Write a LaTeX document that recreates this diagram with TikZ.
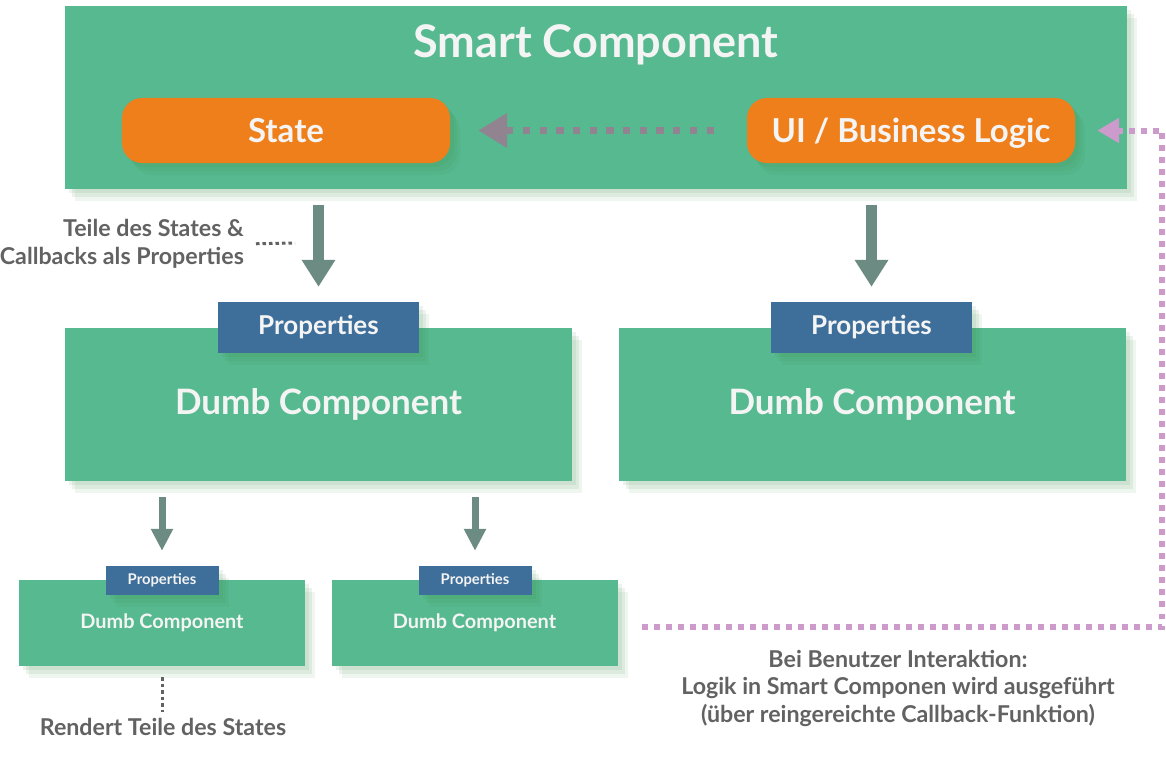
\documentclass[tikz,border=0pt]{standalone}
\usepackage{fontspec}
\setmainfont{Lato}
\usetikzlibrary{arrows.meta,shadows}
\definecolor{smartgreen}{HTML}{56B98F}
\definecolor{orangebox}{HTML}{EF7F1B}
\definecolor{propblue}{HTML}{3E6E9A}
\definecolor{arrowgreen}{HTML}{6C8B82}
\definecolor{greyarrow}{HTML}{928390}
\definecolor{pinkline}{HTML}{CC9BCB}
\definecolor{txtgrey}{HTML}{626262}
\definecolor{whitetxt}{HTML}{F4F4F4}
\definecolor{shadowc}{HTML}{3C8F4A}
\begin{document}
\begin{tikzpicture}[x=1bp,y=-1bp,
  soft/.style={
    general shadow={shadow xshift=4bp,shadow yshift=-4bp,fill=shadowc,opacity=0.10},
    general shadow={shadow xshift=7bp,shadow yshift=-8bp,fill=shadowc,opacity=0.10},
    general shadow={shadow xshift=10bp,shadow yshift=-12bp,fill=shadowc,opacity=0.08}},
  greenbox/.style={soft,fill=smartgreen,draw=none,inner sep=0pt,text=whitetxt,font=\bfseries},
  orangepill/.style={soft,fill=orangebox,rounded corners=20bp,inner sep=0pt,minimum width=328bp,minimum height=65bp,text height=26bp,text depth=3bp,text=whitetxt,font=\fontsize{33bp}{38bp}\selectfont\bfseries},
  propbox/.style={soft,fill=propblue,inner sep=0pt,text=whitetxt},
  bigprop/.style={propbox,minimum width=201bp,minimum height=51bp,font=\fontsize{26bp}{30bp}\selectfont\bfseries},
  smallprop/.style={propbox,minimum width=113bp,minimum height=29bp,font=\fontsize{14.8bp}{17bp}\selectfont\bfseries},
  bigdumb/.style={greenbox,minimum width=507bp,minimum height=153bp,font=\fontsize{35bp}{42bp}\selectfont\bfseries},
  smalldumb/.style={greenbox,minimum width=286bp,minimum height=86bp,font=\fontsize{19.9bp}{24bp}\selectfont\bfseries},
  bigarrow/.style={draw=arrowgreen,line width=11bp,-{Triangle[width=32bp,length=27bp]},shorten <=16bp,shorten >=15bp},
  smallarrow/.style={draw=arrowgreen,line width=7bp,-{Triangle[width=21bp,length=22bp]},shorten <=16bp,shorten >=15bp},
  greyarrowline/.style={draw=greyarrow,line width=7.5bp,dash pattern=on 7.3bp off 9.4bp,-{Triangle[width=33bp,length=29bp]}},
  pinkarrowline/.style={draw=pinkline,line width=6bp,dash pattern=on 5.5bp off 6.5bp,-{Triangle[width=24bp,length=22bp]}},
  greydots/.style={draw=txtgrey,line width=3bp,dash pattern=on 3.5bp off 3bp},
  greytext/.style={text=txtgrey,font=\fontsize{23.2bp}{27.5bp}\selectfont\bfseries,inner sep=0pt}
]
\useasboundingbox[fill=white] (0,0) rectangle (1166,758);

% Smart component
\node[greenbox,minimum width=1062bp,minimum height=183bp] (smart) at (596,97.5) {};
\node[text=whitetxt,font=\fontsize{45bp}{54bp}\selectfont\bfseries,inner sep=0pt] (smarttitle) at (596,45) {Smart Component};
\node[orangepill] (state) at (286,130.5) {State};
\node[orangepill] (ui) at (911,130.5) {UI / Business Logic};
\draw[greyarrowline,shorten <=33bp,shorten >=28bp] (ui.west) -- (state.east);

% Dumb components
\node[bigdumb] (dumb1) at (318.5,404.5) {Dumb Component};
\node[bigdumb] (dumb2) at (872,404.5) {Dumb Component};
\node[bigprop] (props1) at (318.5,327.5) {Properties};
\node[bigprop] (props2) at (871.5,327.5) {Properties};

\draw[bigarrow] (smart.south -| props1.north) -- (props1.north);
\draw[bigarrow] (smart.south -| props2.north) -- (props2.north);

% label
\node[greytext,align=right,anchor=east] (teile) at (244,244) {Teile des States \&\\Callbacks als Properties};
\coordinate (teiledots) at (295,243);
\draw[greydots,shorten <=12bp] (teile.east) -- (teiledots);

% small dumb components
\node[smalldumb] (sdumb1) at (162,623) {Dumb Component};
\node[smalldumb] (sdumb2) at (474.5,623) {Dumb Component};
\node[smallprop] (sprops1) at (162,580.5) {Properties};
\node[smallprop] (sprops2) at (475,580.5) {Properties};

\draw[smallarrow] (dumb1.south -| sprops1.north) -- (sprops1.north);
\draw[smallarrow] (dumb1.south -| sprops2.north) -- (sprops2.north);

\node[greytext] (rendert) at (163,727) {Rendert Teile des States};
\draw[greydots,shorten <=11bp,shorten >=6bp] (sdumb1.south) -- (rendert.north -| sdumb1.south);

% callback path
\coordinate (pstart) at (642,627);
\coordinate (pcorner) at (1162,627);
\draw[pinkarrowline,shorten >=22bp] (pstart) -- (pcorner) |- (ui.east);

\node[greytext,align=center] (interaktion) at (898,688) {Bei Benutzer Interaktion:\\Logik in Smart Componen wird ausgeführt\\(über reingereichte Callback-Funktion)};
\end{tikzpicture}
\end{document}
